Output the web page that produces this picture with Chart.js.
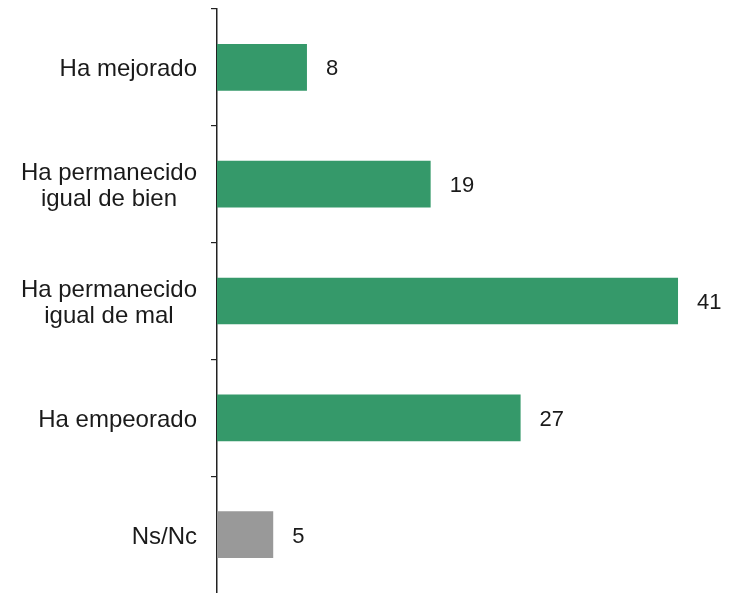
<!DOCTYPE html>
<html>
<head>
<meta charset="utf-8">
<script src="https://cdn.jsdelivr.net/npm/chart.js@4/dist/chart.umd.min.js"></script>
<style>
  html, body { margin: 0; padding: 0; background: #ffffff; }
  #wrap { width: 731px; height: 593px; position: relative; }
</style>
</head>
<body>
<div id="wrap"><canvas id="chart"></canvas></div>
<script>
// Categories (each entry is a list of text lines) and percentages
const categories = [
  ['Ha mejorado'],
  ['Ha permanecido', 'igual de bien'],
  ['Ha permanecido', 'igual de mal'],
  ['Ha empeorado'],
  ['Ns/Nc']
];
const values = [8, 19, 41, 27, 5];
const barColors = ['#35996a', '#35996a', '#35996a', '#35996a', '#999999'];

const FONT = '"Liberation Sans", Arial, Helvetica, sans-serif';
const TEXT_COLOR = '#1a1a1a';

// Category labels: right-aligned block, lines centered within the block
const categoryLabels = {
  id: 'categoryLabels',
  afterDraw(chart) {
    const ctx = chart.ctx;
    const y = chart.scales.y;
    const rightEdge = chart.chartArea.left - 20;
    const lineH = 26;
    ctx.save();
    ctx.font = '24px ' + FONT;
    ctx.fillStyle = TEXT_COLOR;
    ctx.textAlign = 'center';
    ctx.textBaseline = 'alphabetic';
    categories.forEach((lines, i) => {
      const cy = y.getPixelForValue(i);
      const blockW = Math.max(...lines.map(l => ctx.measureText(l).width));
      const cx = rightEdge - blockW / 2;
      lines.forEach((line, j) => {
        const by = cy + 9 + (j - (lines.length - 1) / 2) * lineH;
        ctx.fillText(line, cx, by);
      });
    });
    ctx.restore();
  }
};

// Value labels to the right of each bar
const valueLabels = {
  id: 'valueLabels',
  afterDatasetsDraw(chart) {
    const ctx = chart.ctx;
    const meta = chart.getDatasetMeta(0);
    ctx.save();
    ctx.font = '22px ' + FONT;
    ctx.fillStyle = TEXT_COLOR;
    ctx.textAlign = 'left';
    ctx.textBaseline = 'alphabetic';
    meta.data.forEach((bar, i) => {
      ctx.fillText(String(values[i]), bar.x + 19, bar.y + 8);
    });
    ctx.restore();
  }
};

new Chart(document.getElementById('chart'), {
  type: 'bar',
  data: {
    labels: categories.map(l => l.join(' ')),
    datasets: [{
      data: values,
      backgroundColor: barColors,
      borderWidth: 0,
      barPercentage: 0.4,
      categoryPercentage: 1.0
    }]
  },
  options: {
    indexAxis: 'y',
    responsive: true,
    maintainAspectRatio: false,
    animation: false,
    layout: { padding: { top: 9, right: 8, bottom: 0, left: 0 } },
    plugins: {
      legend: { display: false },
      tooltip: { enabled: false }
    },
    scales: {
      x: {
        display: false,
        min: 0,
        max: 45
      },
      y: {
        offset: true,
        afterFit(scale) { scale.width = 217; },
        border: { display: true, color: '#222222', width: 1.5 },
        grid: {
          offset: true,
          drawOnChartArea: false,
          drawTicks: true,
          tickLength: 6,
          // no tick mark at the bottom end of the axis
          color: (c) => (c.index === undefined || c.index >= categories.length
            ? 'rgba(0,0,0,0)' : '#222222'),
          lineWidth: 1.2
        },
        ticks: { display: false }
      }
    }
  },
  plugins: [categoryLabels, valueLabels]
});
</script>
</body>
</html>
